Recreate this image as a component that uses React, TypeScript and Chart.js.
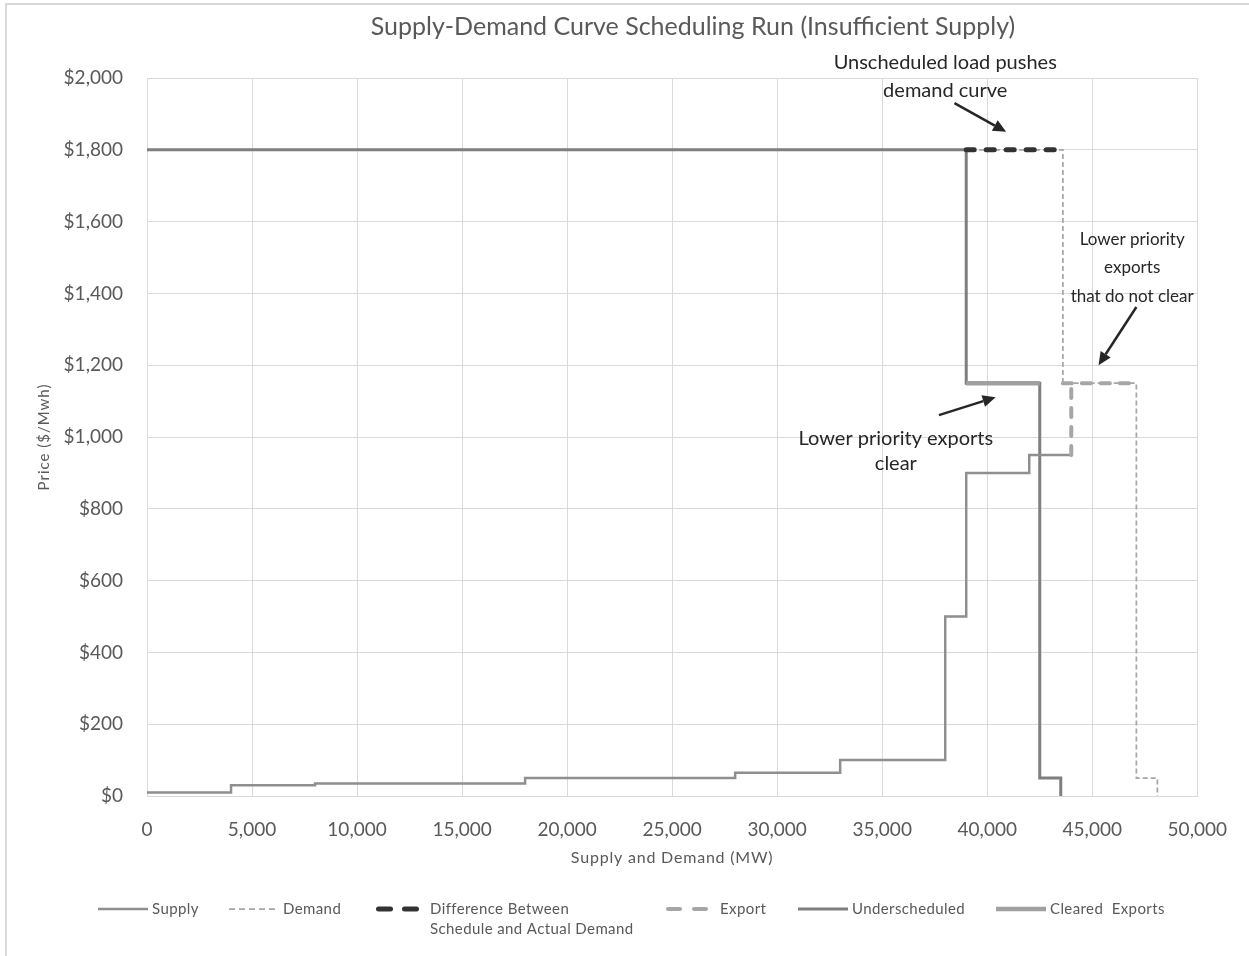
import React, { useEffect, useRef } from 'react';
import { Chart, registerables } from 'chart.js';

Chart.register(...registerables);

const FONT = 'Lato, "Noto Sans", sans-serif';
const TEXT_GRAY = '#595959';
const GRID = '#d9d9d9';

// ---------- text ----------
const chartTitle = 'Supply-Demand Curve Scheduling Run (Insufficient Supply)';
const xTitle = 'Supply and Demand (MW)';
const yTitle = 'Price ($/Mwh)';

// ---------- tick values ----------
const xTickValues = [0, 5000, 10000, 15000, 20000, 25000, 30000, 35000, 40000, 45000, 50000];
const yTickValues = [0, 200, 400, 600, 800, 1000, 1200, 1400, 1600, 1800, 2000];

// ---------- series (MW, $/MWh) ----------
const supplyX = [0, 4000, 4000, 8000, 8000, 18000, 18000, 28000, 28000, 33000, 33000, 38000, 38000, 39000, 39000, 42000, 42000, 44000];
const supplyY = [10, 10, 30, 30, 35, 35, 50, 50, 65, 65, 100, 100, 500, 500, 900, 900, 950, 950];

const demandX = [0, 43600, 43600, 47100, 47100, 48100, 48100];
const demandY = [1800, 1800, 1150, 1150, 50, 50, 0];

const differenceX = [39000, 43600];
const differenceY = [1800, 1800];

const exportX = [44000, 44000, 44000, 43600, 47100];
const exportY: (number | null)[] = [950, 1150, null, 1150, 1150];

const underscheduledX = [0, 39000, 39000, 42500, 42500, 43500, 43500];
const underscheduledY = [1800, 1800, 1150, 1150, 50, 50, 0];

const clearedX = [39000, 42500];
const clearedY = [1150, 1150];

const seriesNames = ['Supply', 'Demand', 'Difference Between Schedule and Actual Demand', 'Export', 'Underscheduled', 'Cleared  Exports'];
const legendText: string[][] = [['Supply'], ['Demand'], ['Difference Between', 'Schedule and Actual Demand'], ['Export'], ['Underscheduled'], ['Cleared  Exports']];

// ---------- annotations ----------
const annotationText: string[][] = [
  ['Unscheduled load pushes', 'demand curve'],
  ['Lower priority', 'exports', 'that do not clear'],
  ['Lower priority exports', 'clear'],
];

// ---------- styling ----------
const styles = [
  { color: '#8f8f8f', width: 2.5, dash: [] as number[], legendDash: [] as number[], cap: 'butt' },
  { color: '#a6a6a6', width: 1.75, dash: [5, 3], legendDash: [6, 4], cap: 'butt' },
  { color: '#333333', width: 5, dash: [8, 12], legendDash: [12, 14], cap: 'round' },
  { color: '#a6a6a6', width: 4, dash: [9, 10], legendDash: [12, 14], cap: 'round' },
  { color: '#7f7f7f', width: 3, dash: [] as number[], legendDash: [] as number[], cap: 'butt' },
  { color: '#a0a0a0', width: 4.5, dash: [] as number[], legendDash: [] as number[], cap: 'butt' },
];
const drawOrder = [3, 5, 0, 2, 4, 1];

// annotation placement in data coordinates
const annotationLayout = [
  { size: 20, cx: 38000, lineY: [2042, 1964], from: [38440, 1930], to: [40900, 1850] },
  { size: 17, cx: 46900, lineY: [1549, 1471, 1390], from: [47100, 1362], to: [45300, 1200] },
  { size: 20, cx: 35650, lineY: [997, 925], from: [37700, 1061], to: [40400, 1111] },
];
const legendStartX = [98, 229, 376, 666, 798, 996];

function pts(xs: number[], ys: (number | null)[]) {
  return xs.map((x, i) => ({ x, y: ys[i] }));
}

function drawArrow(ctx: CanvasRenderingContext2D, x1: number, y1: number, x2: number, y2: number) {
  const ang = Math.atan2(y2 - y1, x2 - x1);
  const head = 13;
  const hw = 6;
  const bx = x2 - head * Math.cos(ang);
  const by = y2 - head * Math.sin(ang);
  ctx.strokeStyle = '#262626';
  ctx.fillStyle = '#262626';
  ctx.lineWidth = 2.5;
  ctx.setLineDash([]);
  ctx.beginPath();
  ctx.moveTo(x1, y1);
  ctx.lineTo(bx, by);
  ctx.stroke();
  ctx.beginPath();
  ctx.moveTo(x2, y2);
  ctx.lineTo(bx + hw * Math.sin(ang), by - hw * Math.cos(ang));
  ctx.lineTo(bx - hw * Math.sin(ang), by + hw * Math.cos(ang));
  ctx.closePath();
  ctx.fill();
}

function setSpacing(ctx: any, v: string) {
  if ('letterSpacing' in ctx) ctx.letterSpacing = v;
}

const overlayPlugin = {
  id: 'overlay',
  beforeDraw(chart: any) {
    const { ctx, width, height } = chart;
    ctx.save();
    ctx.strokeStyle = GRID;
    ctx.lineWidth = 2;
    ctx.beginPath();
    ctx.moveTo(6, height);
    ctx.lineTo(6, 4);
    ctx.lineTo(width, 4);
    ctx.stroke();
    ctx.restore();
  },
  afterDraw(chart: any) {
    const { ctx, scales, chartArea } = chart;
    const xs = scales.x;
    const ys = scales.y;
    ctx.save();
    // chart title
    ctx.font = `25px ${FONT}`;
    ctx.fillStyle = TEXT_GRAY;
    ctx.textAlign = 'center';
    ctx.textBaseline = 'middle';
    ctx.fillText(chartTitle, 693, 27);

    // axis titles
    setSpacing(ctx, '0.8px');
    ctx.font = `16px ${FONT}`;
    ctx.fillText(xTitle, (chartArea.left + chartArea.right) / 2, 858);
    ctx.save();
    ctx.translate(44, (chartArea.top + chartArea.bottom) / 2);
    ctx.rotate(-Math.PI / 2);
    ctx.font = `15px ${FONT}`;
    setSpacing(ctx, '1px');
    ctx.fillText(yTitle, 0, 0);
    ctx.restore();
    setSpacing(ctx, '0px');

    // annotations
    annotationText.forEach((lines, i) => {
      const a = annotationLayout[i];
      ctx.font = `${a.size}px ${FONT}`;
      ctx.fillStyle = '#262626';
      ctx.textAlign = 'center';
      ctx.textBaseline = 'middle';
      lines.forEach((t, j) => ctx.fillText(t, xs.getPixelForValue(a.cx), ys.getPixelForValue(a.lineY[j])));
      drawArrow(ctx, xs.getPixelForValue(a.from[0]), ys.getPixelForValue(a.from[1]), xs.getPixelForValue(a.to[0]), ys.getPixelForValue(a.to[1]));
    });

    // legend
    const ly = 909;
    legendText.forEach((lines, i) => {
      const s = styles[i];
      const sx = legendStartX[i];
      ctx.strokeStyle = s.color;
      ctx.lineWidth = s.width;
      ctx.lineCap = s.cap as CanvasLineCap;
      ctx.setLineDash(s.legendDash);
      const inset = s.cap === 'round' ? s.width / 2 : 0;
      const len = s.cap === 'round' ? 45 : 50;
      ctx.beginPath();
      ctx.moveTo(sx + inset, ly);
      ctx.lineTo(sx + len - inset, ly);
      ctx.stroke();
      ctx.setLineDash([]);
      ctx.lineCap = 'butt';
      ctx.font = `15px ${FONT}`;
      setSpacing(ctx, '0.4px');
      ctx.fillStyle = TEXT_GRAY;
      ctx.textAlign = 'left';
      ctx.textBaseline = 'middle';
      lines.forEach((t, j) => ctx.fillText(t, sx + 54, ly + j * 20));
      setSpacing(ctx, '0px');
    });
    ctx.restore();
  },
};

export default function App() {
  const canvasRef = useRef<HTMLCanvasElement | null>(null);

  useEffect(() => {
    document.body.style.margin = '0';
    const canvas = canvasRef.current;
    if (!canvas) return;
    const seriesData = [
      pts(supplyX, supplyY),
      pts(demandX, demandY),
      pts(differenceX, differenceY),
      pts(exportX, exportY),
      pts(underscheduledX, underscheduledY),
      pts(clearedX, clearedY),
    ];
    const chart = new Chart(canvas, {
      type: 'line',
      data: {
        datasets: seriesData.map((d, i) => ({
          label: seriesNames[i],
          data: d,
          borderColor: styles[i].color,
          backgroundColor: styles[i].color,
          borderWidth: styles[i].width,
          borderDash: styles[i].dash,
          borderCapStyle: styles[i].cap as any,
          borderJoinStyle: 'miter' as any,
          pointRadius: 0,
          pointHoverRadius: 0,
          tension: 0,
          fill: false,
          spanGaps: false,
          order: drawOrder[i],
        })),
      },
      options: {
        animation: false,
        responsive: true,
        maintainAspectRatio: false,
        layout: { padding: { top: 78, right: 51, bottom: 70, left: 0 } },
        plugins: {
          legend: { display: false },
          title: { display: false },
          tooltip: { enabled: false },
        },
        scales: {
          x: {
            type: 'linear',
            min: xTickValues[0],
            max: xTickValues[xTickValues.length - 1],
            afterBuildTicks: (scale: any) => {
              scale.ticks = xTickValues.map((v) => ({ value: v }));
            },
            afterFit: (scale: any) => {
              scale.height = 90;
            },
            grid: { color: GRID, lineWidth: 1, drawTicks: false },
            border: { color: GRID, width: 1 },
            ticks: {
              autoSkip: false,
              maxRotation: 0,
              padding: 22,
              color: TEXT_GRAY,
              font: { family: FONT, size: 19 },
              callback: (v: any) => Number(v).toLocaleString('en-US'),
            },
            title: { display: false, text: xTitle },
          },
          y: {
            type: 'linear',
            min: yTickValues[0],
            max: yTickValues[yTickValues.length - 1],
            afterBuildTicks: (scale: any) => {
              scale.ticks = yTickValues.map((v) => ({ value: v }));
            },
            afterFit: (scale: any) => {
              scale.width = 147;
            },
            grid: { color: GRID, lineWidth: 1, drawTicks: false },
            border: { color: GRID, width: 1 },
            ticks: {
              autoSkip: false,
              padding: 24,
              color: TEXT_GRAY,
              font: { family: FONT, size: 19 },
              callback: (v: any) => '$' + Number(v).toLocaleString('en-US'),
            },
            title: { display: false, text: yTitle },
          },
        },
      },
      plugins: [overlayPlugin],
    });
    return () => chart.destroy();
  }, []);

  return (
    <div style={{ position: 'relative', width: 1249, height: 956, overflow: 'hidden' }}>
      <canvas ref={canvasRef} />
    </div>
  );
}
